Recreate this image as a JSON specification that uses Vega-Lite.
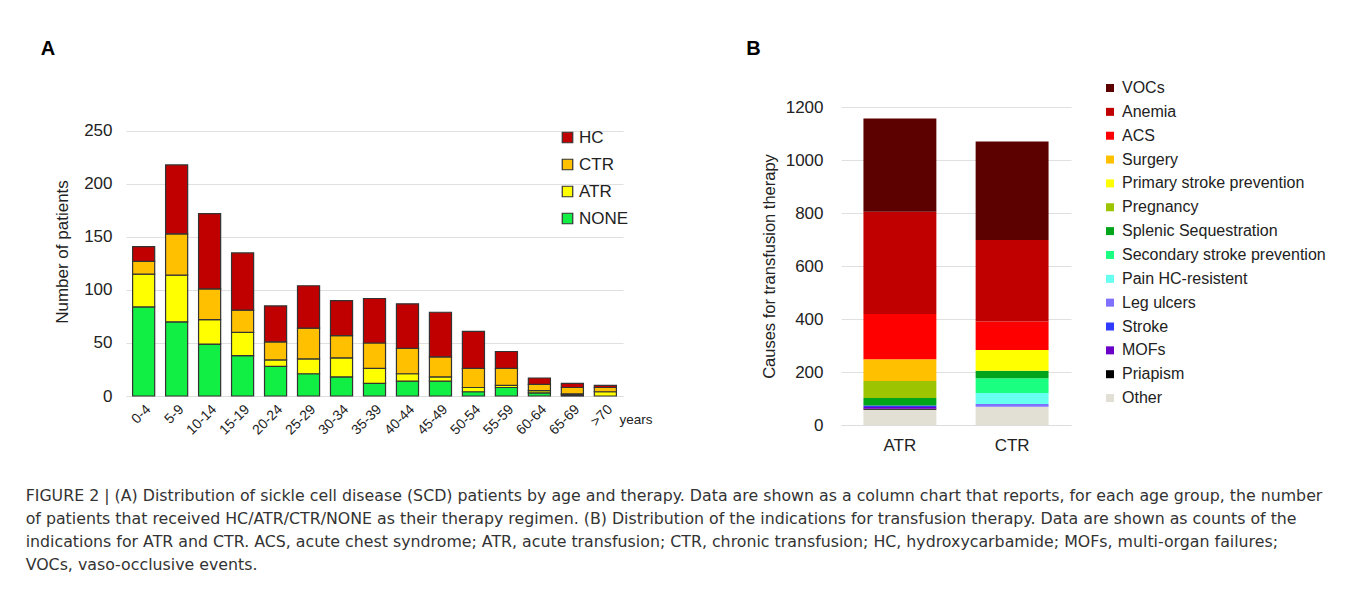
{
  "$schema": "https://vega.github.io/schema/vega-lite/v6.json",
  "padding": {"left": 25, "top": 39, "right": 5, "bottom": 0},
  "background": "white",
  "config": {
    "font": "Liberation Sans",
    "view": {"stroke": null},
    "axis": {"labelColor": "#222", "titleColor": "#222", "titleFontWeight": "normal", "gridColor": "#e0e0e0", "domain": false, "ticks": false}
  },
  "resolve": {"scale": {"color": "independent"}, "legend": {"color": "independent"}},
  "title": {
    "text": [
      "FIGURE 2 | (A) Distribution of sickle cell disease (SCD) patients by age and therapy. Data are shown as a column chart that reports, for each age group, the number",
      "of patients that received HC/ATR/CTR/NONE as their therapy regimen. (B) Distribution of the indications for transfusion therapy. Data are shown as counts of the",
      "indications for ATR and CTR. ACS, acute chest syndrome; ATR, acute transfusion; CTR, chronic transfusion; HC, hydroxycarbamide; MOFs, multi-organ failures;",
      "VOCs, vaso-occlusive events."
    ],
    "orient": "bottom",
    "anchor": "start",
    "dx": -15,
    "offset": 36,
    "font": "DejaVu Sans",
    "fontSize": 15.8,
    "fontWeight": "normal",
    "color": "#333",
    "lineHeight": 23
  },
  "hconcat": [
    {
      "width": 497,
      "height": 289,
      "title": {"text": "A", "anchor": "start", "fontSize": 20, "fontWeight": "bold", "color": "#000", "dx": -13, "offset": 48},
      "data": {"values": [
        {"age": "0-4", "therapy": "NONE", "n": 84}, {"age": "0-4", "therapy": "ATR", "n": 31}, {"age": "0-4", "therapy": "CTR", "n": 12}, {"age": "0-4", "therapy": "HC", "n": 14},
        {"age": "5-9", "therapy": "NONE", "n": 70}, {"age": "5-9", "therapy": "ATR", "n": 44}, {"age": "5-9", "therapy": "CTR", "n": 39}, {"age": "5-9", "therapy": "HC", "n": 65},
        {"age": "10-14", "therapy": "NONE", "n": 49}, {"age": "10-14", "therapy": "ATR", "n": 23}, {"age": "10-14", "therapy": "CTR", "n": 29}, {"age": "10-14", "therapy": "HC", "n": 71},
        {"age": "15-19", "therapy": "NONE", "n": 38}, {"age": "15-19", "therapy": "ATR", "n": 22}, {"age": "15-19", "therapy": "CTR", "n": 21}, {"age": "15-19", "therapy": "HC", "n": 54},
        {"age": "20-24", "therapy": "NONE", "n": 28}, {"age": "20-24", "therapy": "ATR", "n": 6}, {"age": "20-24", "therapy": "CTR", "n": 17}, {"age": "20-24", "therapy": "HC", "n": 34},
        {"age": "25-29", "therapy": "NONE", "n": 21}, {"age": "25-29", "therapy": "ATR", "n": 14}, {"age": "25-29", "therapy": "CTR", "n": 29}, {"age": "25-29", "therapy": "HC", "n": 40},
        {"age": "30-34", "therapy": "NONE", "n": 18}, {"age": "30-34", "therapy": "ATR", "n": 18}, {"age": "30-34", "therapy": "CTR", "n": 21}, {"age": "30-34", "therapy": "HC", "n": 33},
        {"age": "35-39", "therapy": "NONE", "n": 12}, {"age": "35-39", "therapy": "ATR", "n": 14}, {"age": "35-39", "therapy": "CTR", "n": 24}, {"age": "35-39", "therapy": "HC", "n": 42},
        {"age": "40-44", "therapy": "NONE", "n": 14}, {"age": "40-44", "therapy": "ATR", "n": 7}, {"age": "40-44", "therapy": "CTR", "n": 24}, {"age": "40-44", "therapy": "HC", "n": 42},
        {"age": "45-49", "therapy": "NONE", "n": 14}, {"age": "45-49", "therapy": "ATR", "n": 4}, {"age": "45-49", "therapy": "CTR", "n": 19}, {"age": "45-49", "therapy": "HC", "n": 42},
        {"age": "50-54", "therapy": "NONE", "n": 4}, {"age": "50-54", "therapy": "ATR", "n": 4}, {"age": "50-54", "therapy": "CTR", "n": 18}, {"age": "50-54", "therapy": "HC", "n": 35},
        {"age": "55-59", "therapy": "NONE", "n": 8}, {"age": "55-59", "therapy": "ATR", "n": 2}, {"age": "55-59", "therapy": "CTR", "n": 16}, {"age": "55-59", "therapy": "HC", "n": 16},
        {"age": "60-64", "therapy": "NONE", "n": 3}, {"age": "60-64", "therapy": "ATR", "n": 2}, {"age": "60-64", "therapy": "CTR", "n": 6}, {"age": "60-64", "therapy": "HC", "n": 6},
        {"age": "65-69", "therapy": "NONE", "n": 1}, {"age": "65-69", "therapy": "ATR", "n": 1}, {"age": "65-69", "therapy": "CTR", "n": 6}, {"age": "65-69", "therapy": "HC", "n": 4},
        {"age": ">70", "therapy": "ATR", "n": 4}, {"age": ">70", "therapy": "CTR", "n": 4}, {"age": ">70", "therapy": "HC", "n": 2}
      ]},
      "transform": [{"calculate": "indexof(['NONE','ATR','CTR','HC'], datum.therapy)", "as": "stackorder"}],
      "mark": {"type": "bar", "stroke": "#333", "strokeWidth": 1.2},
      "encoding": {
        "x": {
          "field": "age", "type": "ordinal", "sort": null,
          "scale": {"paddingInner": 0.33, "paddingOuter": 0.2},
          "axis": {"labelAngle": -45, "labelFontSize": 14, "labelPadding": 6, "domain": true, "domainColor": "#ddd", "title": "years", "titleFontSize": 13.5, "titleAngle": 0, "titleAlign": "left", "titleBaseline": "alphabetic", "titleX": 493, "titleY": 27}
        },
        "y": {
          "field": "n", "type": "quantitative",
          "scale": {"domain": [0, 272.64], "nice": false},
          "axis": {"values": [0, 50, 100, 150, 200, 250], "labelFontSize": 17, "labelPadding": 14, "title": "Number of patients", "titleFontSize": 17, "titlePadding": 12}
        },
        "color": {
          "field": "therapy", "type": "nominal",
          "scale": {"domain": ["HC", "CTR", "ATR", "NONE"], "range": ["#c00000", "#ffc000", "#ffff00", "#11ee44"]},
          "legend": {"title": null, "orient": "none", "legendX": 433, "legendY": 22, "labelFontSize": 17, "labelColor": "#222", "symbolType": "square", "symbolSize": 110, "symbolStrokeColor": "#333", "symbolStrokeWidth": 1.2, "rowPadding": 9, "labelOffset": 3, "padding": 0}
        },
        "order": {"field": "stackorder", "type": "quantitative"}
      }
    },
    {
      "width": 230,
      "height": 318,
      "title": {"text": "B", "anchor": "start", "fontSize": 20, "fontWeight": "bold", "color": "#000", "dx": -15, "offset": 21},
      "data": {"values": [
        {"group": "ATR", "cause": "Other", "n": 58},
        {"group": "ATR", "cause": "Priapism", "n": 3},
        {"group": "ATR", "cause": "MOFs", "n": 7},
        {"group": "ATR", "cause": "Stroke", "n": 6},
        {"group": "ATR", "cause": "Splenic Sequestration", "n": 28},
        {"group": "ATR", "cause": "Pregnancy", "n": 64},
        {"group": "ATR", "cause": "Surgery", "n": 82},
        {"group": "ATR", "cause": "ACS", "n": 171},
        {"group": "ATR", "cause": "Anemia", "n": 386},
        {"group": "ATR", "cause": "VOCs", "n": 352},
        {"group": "CTR", "cause": "Other", "n": 69},
        {"group": "CTR", "cause": "Leg ulcers", "n": 10},
        {"group": "CTR", "cause": "Pain HC-resistent", "n": 42},
        {"group": "CTR", "cause": "Secondary stroke prevention", "n": 55},
        {"group": "CTR", "cause": "Splenic Sequestration", "n": 29},
        {"group": "CTR", "cause": "Primary stroke prevention", "n": 78},
        {"group": "CTR", "cause": "ACS", "n": 108},
        {"group": "CTR", "cause": "Anemia", "n": 307},
        {"group": "CTR", "cause": "VOCs", "n": 372}
      ]},
      "transform": [{"calculate": "indexof(['Other','Priapism','MOFs','Stroke','Leg ulcers','Pain HC-resistent','Secondary stroke prevention','Splenic Sequestration','Pregnancy','Primary stroke prevention','Surgery','ACS','Anemia','VOCs'], datum.cause)", "as": "stackorder"}],
      "mark": {"type": "bar"},
      "encoding": {
        "x": {
          "field": "group", "type": "nominal", "sort": ["ATR", "CTR"],
          "scale": {"paddingInner": 0.35, "paddingOuter": 0.2},
          "axis": {"labelAngle": 0, "labelFontSize": 17, "labelPadding": 12, "domain": true, "domainColor": "#ddd", "title": null}
        },
        "y": {
          "field": "n", "type": "quantitative",
          "scale": {"domain": [0, 1200]},
          "axis": {"values": [0, 200, 400, 600, 800, 1000, 1200], "format": "d", "labelFontSize": 17, "labelPadding": 18, "title": "Causes for transfusion therapy", "titleFontSize": 16.5, "titlePadding": 8}
        },
        "color": {
          "field": "cause", "type": "nominal",
          "scale": {
            "domain": ["VOCs", "Anemia", "ACS", "Surgery", "Primary stroke prevention", "Pregnancy", "Splenic Sequestration", "Secondary stroke prevention", "Pain HC-resistent", "Leg ulcers", "Stroke", "MOFs", "Priapism", "Other"],
            "range": ["#5c0000", "#c00000", "#ff0000", "#ffc000", "#ffff00", "#9cc400", "#00a51c", "#1aff80", "#66fff0", "#8070ff", "#2f3cff", "#6a00c8", "#000000", "#e2dfd4"]
          },
          "legend": {"title": null, "orient": "none", "legendX": 261, "legendY": -27, "labelFontSize": 16, "labelColor": "#222", "labelLimit": 300, "symbolType": "square", "symbolSize": 64, "symbolStrokeWidth": 0, "rowPadding": 7.85, "labelOffset": 4, "padding": 0}
        },
        "order": {"field": "stackorder", "type": "quantitative"}
      }
    }
  ],
  "spacing": 93
}
